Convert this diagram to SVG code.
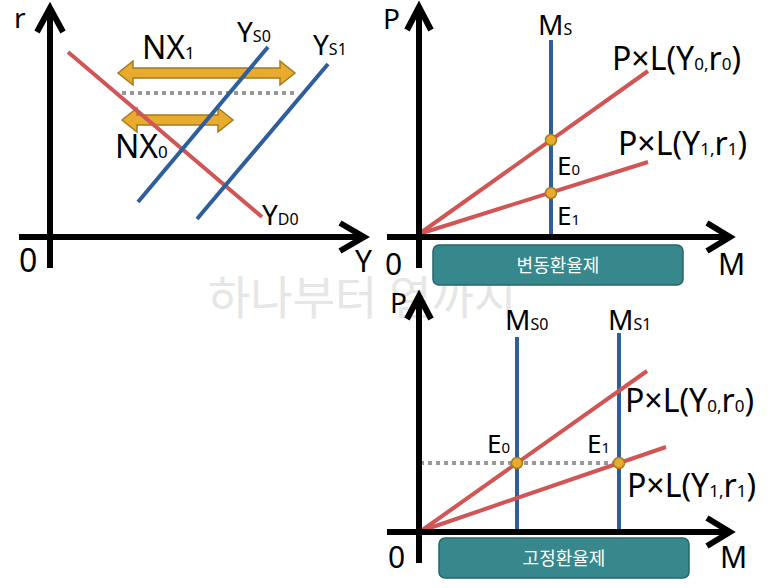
<svg xmlns="http://www.w3.org/2000/svg" width="773" height="588" viewBox="0 0 773 588">
<style>
text{font-family:"Noto Sans","Noto Sans CJK KR",sans-serif;fill:#000}
.ax{fill:none;stroke:#000;stroke-width:6;stroke-linecap:butt;stroke-linejoin:miter}
.red{stroke:#D05555;stroke-width:4;fill:none}
.blue{stroke:#2F5E9C;stroke-width:4;fill:none}
.dot{stroke:#999;stroke-width:4;stroke-dasharray:4 4;fill:none}
.gold{fill:#E9AB2E;stroke:#A47A1E;stroke-width:1.5}
.pt{fill:#E9AB2E;stroke:#A47A1E;stroke-width:1.5}
.box{fill:#36888D;stroke:#286468;stroke-width:1.5}
.bt{fill:#fff;font-size:18px;text-anchor:middle}
.lbl{font-size:30px}
.sub{font-size:16px}
.pl{font-size:32px}
.pls{font-size:17px}
.e{font-size:26px}
.es{font-size:15px}
.wm{fill:#E6E6E6;font-size:46px}
</style>
<text class="wm" x="208" y="314">하나부터 열까지</text>

<g id="panel-is">
  <g id="nx-arrows">
    <path class="gold" d="M118,73 L133,61 L133,68 L280,68 L280,61 L295,73 L280,85 L280,78 L133,78 L133,85 Z"/>
    <path class="gold" d="M122,120 L137,108 L137,115 L218,115 L218,108 L233,120 L218,132 L218,125 L137,125 L137,132 Z"/>
  </g>
  <line class="dot" x1="122" y1="93" x2="297" y2="93"/>
  <g id="curves-is">
    <line class="red" x1="68" y1="52" x2="262" y2="217"/>
    <line class="blue" x1="268" y1="47" x2="138" y2="202"/>
    <line class="blue" x1="328" y1="64" x2="197" y2="219"/>
  </g>
  <g id="axes-is">
    <path class="ax" d="M50,268 V8 M37,32 L50,8 L63,32"/>
    <path class="ax" d="M19,237 H365 M340,223 L364,237 L340,251"/>
  </g>
  <text x="14" y="28" style="font-size:28px">r</text>
  <text x="19" y="272" style="font-size:32px">0</text>
  <text x="355" y="272" style="font-size:30px">Y</text>
  <text x="142" y="59" style="font-size:32px">NX<tspan style="font-size:17px">1</tspan></text>
  <text x="115" y="158" style="font-size:32px">NX<tspan style="font-size:17px">0</tspan></text>
  <text x="237" y="42" style="font-size:28px">Y<tspan class="sub">S0</tspan></text>
  <text x="313" y="55" style="font-size:28px">Y<tspan class="sub">S1</tspan></text>
  <text x="262" y="225" style="font-size:28px">Y<tspan class="sub">D0</tspan></text>
</g>

<g id="panel-float">
  <g id="curves-float">
    <line class="blue" x1="551" y1="40" x2="551" y2="234"/>
    <line class="red" x1="419" y1="234" x2="648" y2="71"/>
    <line class="red" x1="419" y1="234" x2="648" y2="162"/>
    <circle class="pt" cx="551" cy="140" r="5.5"/>
    <circle class="pt" cx="551" cy="193" r="5.5"/>
  </g>
  <g id="axes-float">
    <path class="ax" d="M419,268 V7 M407,30 L419,7 L431,30"/>
    <path class="ax" d="M387,237 H730 M707,223 L730,237 L707,251"/>
  </g>
  <text x="383" y="29" style="font-size:28px">P</text>
  <text x="385" y="275" class="lbl">0</text>
  <text x="718" y="275" class="lbl">M</text>
  <text x="538" y="35" style="font-size:28px">M<tspan class="sub">S</tspan></text>
  <text x="557" y="175" class="e">E<tspan class="es">0</tspan></text>
  <text x="557" y="225" class="e">E<tspan class="es">1</tspan></text>
  <text x="612" y="70" class="pl">P×L(Y<tspan class="pls">0,</tspan>r<tspan class="pls">0</tspan>)</text>
  <text x="618" y="155" class="pl">P×L(Y<tspan class="pls">1,</tspan>r<tspan class="pls">1</tspan>)</text>
  <g id="box-float">
    <rect class="box" x="433" y="245" width="250" height="40" rx="6"/>
    <text class="bt" x="558" y="272">변동환율제</text>
  </g>
</g>

<g id="panel-fixed">
  <g id="curves-fixed">
    <line class="dot" x1="420" y1="463" x2="619" y2="463"/>
    <line class="blue" x1="517" y1="337" x2="517" y2="530"/>
    <line class="blue" x1="619" y1="333" x2="619" y2="530"/>
    <line class="red" x1="421" y1="531" x2="647" y2="371"/>
    <line class="red" x1="421" y1="531" x2="666" y2="447"/>
    <circle class="pt" cx="517" cy="463" r="5.5"/>
    <circle class="pt" cx="619" cy="463" r="5.5"/>
  </g>
  <g id="axes-fixed">
    <path class="ax" d="M419,563 V296 M407,319 L419,296 L431,319"/>
    <path class="ax" d="M387,532 H730 M707,518 L730,532 L707,546"/>
  </g>
  <text x="390" y="313" style="font-size:28px">P</text>
  <text x="388" y="568" class="lbl">0</text>
  <text x="720" y="568" class="lbl">M</text>
  <text x="505" y="330" style="font-size:28px">M<tspan class="sub">S0</tspan></text>
  <text x="608" y="330" style="font-size:28px">M<tspan class="sub">S1</tspan></text>
  <text x="487" y="453" class="e">E<tspan class="es">0</tspan></text>
  <text x="587" y="453" class="e">E<tspan class="es">1</tspan></text>
  <text x="625" y="412" class="pl">P×L(Y<tspan class="pls">0,</tspan>r<tspan class="pls">0</tspan>)</text>
  <text x="627" y="497" class="pl">P×L(Y<tspan class="pls">1,</tspan>r<tspan class="pls">1</tspan>)</text>
  <g id="box-fixed">
    <rect class="box" x="439" y="538" width="250" height="40" rx="6"/>
    <text class="bt" x="564" y="565">고정환율제</text>
  </g>
</g>
</svg>
